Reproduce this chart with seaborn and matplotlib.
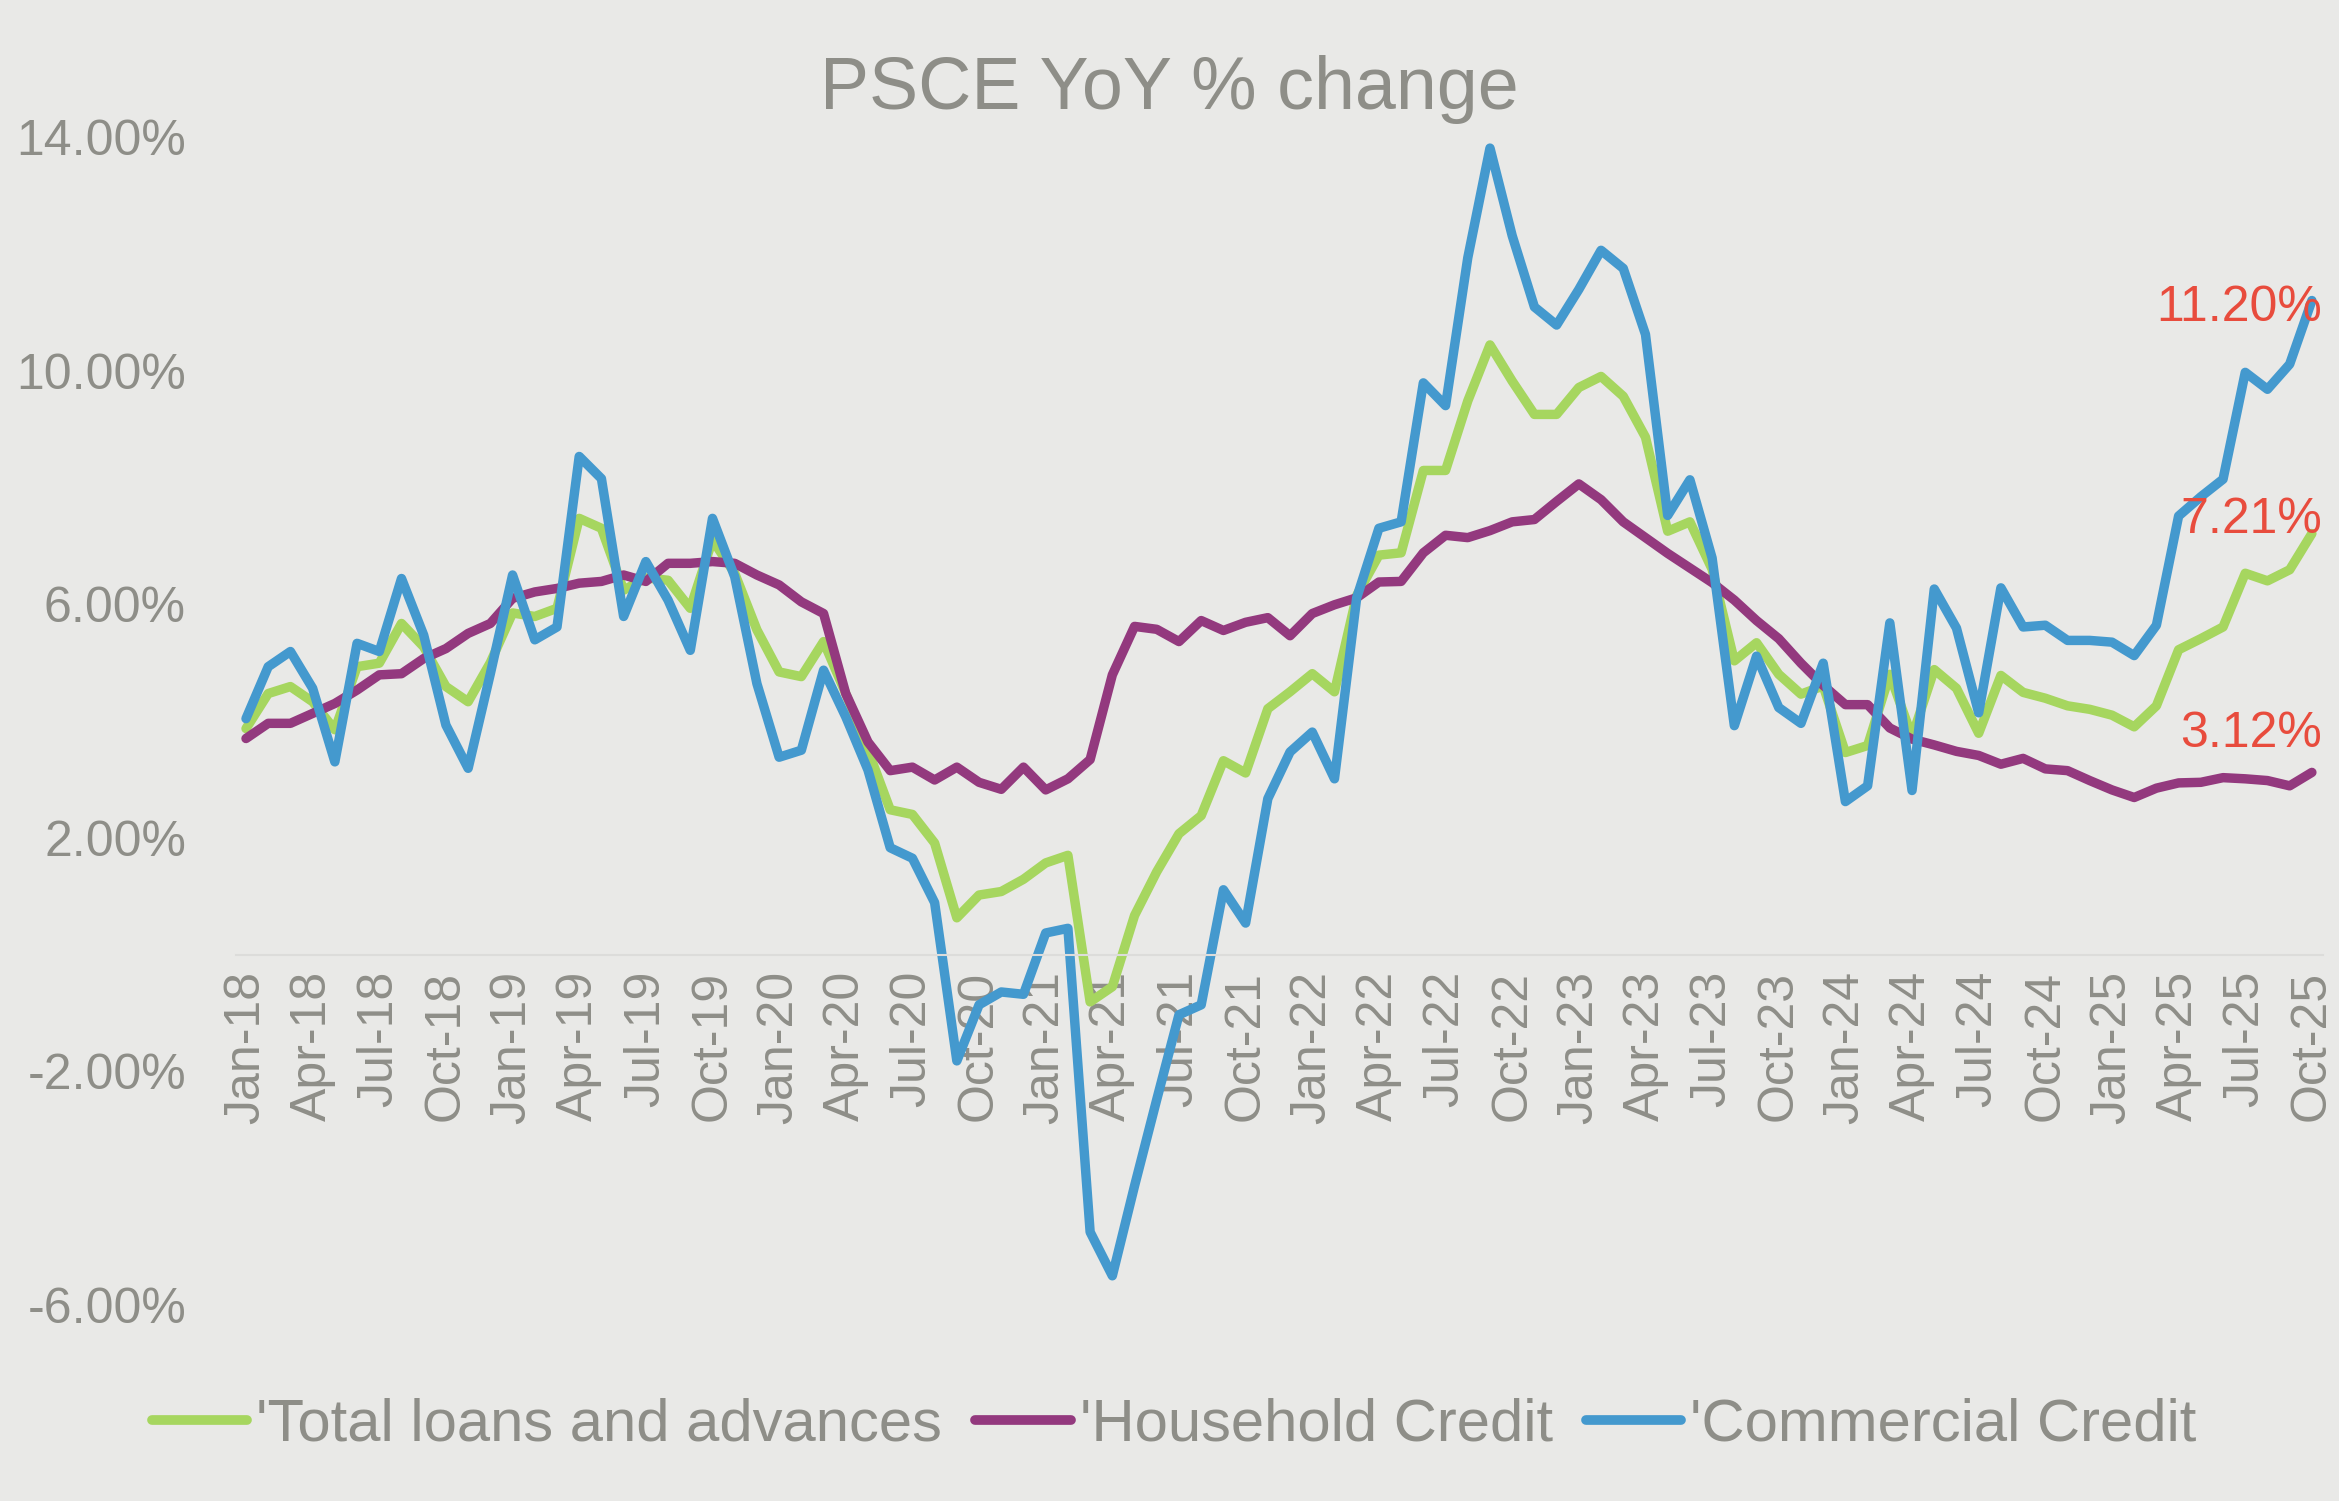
import pandas as pd
import matplotlib.pyplot as plt
import seaborn as sns

# monthly YoY % change, Jan-18 .. Oct-25
months = pd.date_range('2018-01-01', '2025-10-01', freq='MS')

total = [3.87, 4.47, 4.59, 4.33, 3.85, 4.93, 4.99, 5.67, 5.27, 4.59, 4.33, 5.00,
         5.85, 5.79, 5.93, 7.47, 7.30, 6.24, 6.45, 6.41, 5.93, 7.10, 6.53, 5.56,
         4.84, 4.76, 5.36, 4.47, 3.50, 2.48, 2.40, 1.91, 0.63, 1.02, 1.08, 1.29,
         1.57, 1.70, -0.81, -0.55, 0.67, 1.42, 2.07, 2.38, 3.32, 3.11, 4.21, 4.50,
         4.81, 4.50, 6.15, 6.84, 6.88, 8.29, 8.29, 9.48, 10.44, 9.82, 9.25, 9.25,
         9.71, 9.90, 9.56, 8.86, 7.25, 7.41, 6.60, 5.03, 5.34, 4.80, 4.46, 4.60,
         3.46, 3.58, 4.80, 3.73, 4.88, 4.56, 3.79, 4.78, 4.49, 4.39, 4.26, 4.20,
         4.10, 3.90, 4.26, 5.22, 5.41, 5.61, 6.53, 6.40, 6.59, 7.21]

household = [3.70, 3.96, 3.96, 4.13, 4.30, 4.53, 4.79, 4.81, 5.07, 5.24, 5.50, 5.67,
             6.10, 6.21, 6.27, 6.36, 6.39, 6.50, 6.39, 6.70, 6.70, 6.73, 6.70, 6.50,
             6.33, 6.04, 5.84, 4.47, 3.64, 3.15, 3.21, 2.99, 3.21, 2.95, 2.83, 3.21,
             2.82, 3.01, 3.34, 4.79, 5.62, 5.57, 5.36, 5.72, 5.55, 5.69, 5.77, 5.46,
             5.84, 5.99, 6.11, 6.38, 6.39, 6.88, 7.18, 7.14, 7.26, 7.41, 7.45, 7.76,
             8.06, 7.79, 7.41, 7.14, 6.87, 6.62, 6.37, 6.07, 5.72, 5.41, 4.99, 4.61,
             4.28, 4.28, 3.88, 3.69, 3.59, 3.48, 3.41, 3.26, 3.36, 3.18, 3.15, 2.98,
             2.82, 2.69, 2.85, 2.94, 2.95, 3.03, 3.01, 2.98, 2.89, 3.12]

commercial = [4.04, 4.93, 5.19, 4.56, 3.30, 5.33, 5.19, 6.44, 5.47, 3.93, 3.19, 4.81,
              6.50, 5.39, 5.61, 8.53, 8.15, 5.79, 6.73, 6.07, 5.21, 7.47, 6.47, 4.64,
              3.38, 3.50, 4.87, 4.07, 3.16, 1.83, 1.65, 0.89, -1.82, -0.86, -0.64, -0.68,
              0.37, 0.45, -4.75, -5.50, -3.96, -2.48, -1.03, -0.86, 1.11, 0.54, 2.67, 3.47,
              3.81, 3.01, 6.11, 7.30, 7.41, 9.79, 9.40, 11.93, 13.81, 12.31, 11.09, 10.78,
              11.39, 12.06, 11.75, 10.62, 7.52, 8.13, 6.79, 3.92, 5.11, 4.23, 3.96, 4.99,
              2.62, 2.89, 5.68, 2.81, 6.26, 5.59, 4.14, 6.28, 5.61, 5.64, 5.38, 5.38,
              5.35, 5.12, 5.64, 7.51, 7.84, 8.14, 9.97, 9.68, 10.11, 11.20]

series_names = ["'Total loans and advances", "'Household Credit", "'Commercial Credit"]
series_colors = ['#a6d65f', '#93397e', '#4499ce']
tick_labels = ['Jan-18', 'Apr-18', 'Jul-18', 'Oct-18', 'Jan-19', 'Apr-19', 'Jul-19', 'Oct-19',
               'Jan-20', 'Apr-20', 'Jul-20', 'Oct-20', 'Jan-21', 'Apr-21', 'Jul-21', 'Oct-21',
               'Jan-22', 'Apr-22', 'Jul-22', 'Oct-22', 'Jan-23', 'Apr-23', 'Jul-23', 'Oct-23',
               'Jan-24', 'Apr-24', 'Jul-24', 'Oct-24', 'Jan-25', 'Apr-25', 'Jul-25', 'Oct-25']
y_ticks = [-6, -2, 2, 6, 10, 14]
end_labels = ['7.21%', '3.12%', '11.20%']

bg = '#e9e9e7'
grey = '#8e8e88'

sns.set_style('white', {'axes.facecolor': bg, 'figure.facecolor': bg})
plt.rcParams['font.family'] = ['Liberation Sans', 'DejaVu Sans']

n = len(months)
df = pd.DataFrame({
    'idx': list(range(n)) * 3,
    'value': total + household + commercial,
    'series': [s for s in series_names for _ in range(n)],
})

fig = plt.figure(figsize=(23.39, 15.01), dpi=100)
ax = fig.add_axes([236 / 2339, 1 - 1305 / 1501, 2087 / 2339, 1168 / 1501])
sns.lineplot(data=df, x='idx', y='value', hue='series', hue_order=series_names,
             palette=series_colors, sort=False, ax=ax)
for ln in ax.lines:
    ln.set_linewidth(6.8)
    ln.set_solid_joinstyle('round')
    ln.set_solid_capstyle('round')

ax.set_xlim(-0.45, 93.5)
ax.set_ylim(-6, 14)
ax.set_xlabel('')
ax.set_ylabel('')
ax.set_yticks(y_ticks)
ax.set_yticklabels([f'{v:.2f}%' for v in y_ticks])
ax.set_xticks(range(0, n, 3))
ax.set_xticklabels(tick_labels)
ax.tick_params(axis='x', length=0, pad=11.5, labelsize=36, labelcolor=grey, labelrotation=90)
ax.tick_params(axis='y', length=0, pad=36, labelsize=36, labelcolor=grey)
for s in ['top', 'right', 'left']:
    ax.spines[s].set_visible(False)
ax.spines['bottom'].set_position(('data', 0))
ax.spines['bottom'].set_color('#dcdcda')
ax.spines['bottom'].set_linewidth(1.5)
ax.grid(False)

# end-of-series labels
last_vals = [total[-1], household[-1], commercial[-1]]
offsets = [(10, 1), (10, 25), (10, -20)]
for lab, v, off in zip(end_labels, last_vals, offsets):
    ax.annotate(lab, xy=(n - 1, v), xytext=off, textcoords='offset pixels',
                ha='right', va='baseline', fontsize=36, color='#e84c3d')

fig.text(0.5, 1 - 109 / 1501, 'PSCE YoY % change', ha='center', va='baseline',
         fontsize=53, color=grey)

handles, labels = ax.get_legend_handles_labels()
ax.legend_.remove()
leg = fig.legend(handles, labels, loc='center', bbox_to_anchor=(0.502, 1 - 1425 / 1501),
                 ncol=3, frameon=False, fontsize=43, handlelength=1.6,
                 handletextpad=0.15, columnspacing=0.55, labelcolor=grey)
for h in leg.get_lines():
    h.set_linewidth(7)
    h.set_solid_capstyle('round')

fig.savefig('out.png', dpi=100, facecolor=bg)
